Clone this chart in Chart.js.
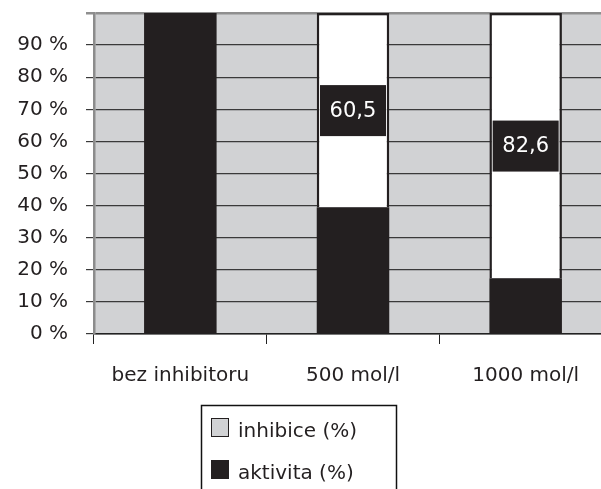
<!DOCTYPE html>
<html>
<head>
<meta charset="utf-8">
<script src="https://cdn.jsdelivr.net/npm/chart.js@4/dist/chart.umd.min.js"></script>
<style>
  html, body { margin: 0; padding: 0; overflow: hidden; background: #fff; }
  canvas { display: block; }
</style>
</head>
<body>
<canvas id="chart" width="612" height="489"></canvas>
<script>
// data
const categories = ["bez inhibitoru", "500 mol/l", "1000 mol/l"];
const inhibice = [0, 60.5, 82.6];
const aktivita = [100, 39.5, 17.4];
const seriesNames = ["inhibice (%)", "aktivita (%)"];
const yMax = 100;
const yStep = 10;

const FONT = "'DejaVu Sans'";
const DARK = "#231f20";

// black boxes with the inhibice value
const valueBoxes = {
    id: "valueBoxes",
    afterDatasetsDraw(chart) {
        const ctx = chart.ctx;
        const meta = chart.getDatasetMeta(1);
        meta.data.forEach((bar, i) => {
            const v = inhibice[i];
            if (!v) return;
            const cy = (bar.y + bar.base) / 2;
            ctx.save();
            ctx.fillStyle = DARK;
            ctx.fillRect(bar.x - 33, cy - 25, 66, 51);
            ctx.fillStyle = "#fff";
            ctx.font = "21px " + FONT;
            ctx.textAlign = "center";
            ctx.textBaseline = "middle";
            ctx.fillText(v.toFixed(1).replace(".", ","), bar.x, cy + 1);
            ctx.restore();
        });
    }
};

// boxed legend under the axis, inhibice first
const boxLegend = {
    id: "boxLegend",
    afterDraw(chart) {
        const ctx = chart.ctx;
        ctx.save();
        ctx.strokeStyle = "#111";
        ctx.lineWidth = 1.5;
        ctx.strokeRect(201.5, 405.5, 195, 120);
        const items = [
            { label: seriesNames[0], fill: "#d1d2d4" },
            { label: seriesNames[1], fill: DARK }
        ];
        ctx.font = "20px " + FONT;
        ctx.textBaseline = "alphabetic";
        items.forEach((it, i) => {
            const y = 418 + i * 42;
            ctx.fillStyle = it.fill;
            ctx.fillRect(211, y, 18, 19);
            ctx.strokeStyle = DARK;
            ctx.lineWidth = 1;
            ctx.strokeRect(211.5, y + 0.5, 17, 18);
            ctx.fillStyle = DARK;
            ctx.fillText(it.label, 238, y + 19);
        });
        ctx.restore();
    }
};

new Chart(document.getElementById("chart"), {
    type: "bar",
    data: {
        labels: categories,
        datasets: [
            {
                label: seriesNames[1],
                data: aktivita,
                backgroundColor: DARK,
                borderWidth: 0
            },
            {
                label: seriesNames[0],
                data: inhibice,
                backgroundColor: "#fff",
                borderColor: DARK,
                borderWidth: 2.5
            }
        ]
    },
    options: {
        responsive: false,
        animation: false,
        events: [],
        layout: { padding: { top: 13, left: 0, right: 0, bottom: 0 } },
        datasets: {
            bar: { categoryPercentage: 1, barPercentage: 0.42 }
        },
        plugins: {
            legend: { display: false },
            tooltip: { enabled: false }
        },
        scales: {
            x: {
                stacked: true,
                grid: {
                    offset: true,
                    drawOnChartArea: false,
                    drawTicks: true,
                    tickLength: 10,
                    color: "#222",
                    lineWidth: 1
                },
                border: { color: "#222", width: 1.5 },
                ticks: {
                    color: DARK,
                    font: { family: FONT, size: 20 },
                    padding: 20,
                    maxRotation: 0,
                    autoSkip: false
                },
                afterFit(scale) { scale.height = 155; }
            },
            y: {
                stacked: true,
                min: 0,
                max: yMax,
                grid: {
                    tickLength: 8,
                    color: ctx => ctx.tick && ctx.tick.value === yMax ? "#8f8f8f" : "#3a3a3a",
                    lineWidth: ctx => ctx.tick && ctx.tick.value === yMax ? 2.5 : 1.2
                },
                border: { color: "#8c8c8c", width: 2.5 },
                ticks: {
                    stepSize: yStep,
                    color: DARK,
                    font: { family: FONT, size: 20 },
                    padding: 18,
                    callback: v => v === yMax ? "" : v + " %"
                },
                afterFit(scale) {
                    scale.width = 94;
                    scale.paddingTop = 0;
                    scale.paddingBottom = 0;
                }
            }
        }
    },
    plugins: [valueBoxes, boxLegend, {
        id: "plotBg",
        beforeDraw(chart) {
            const a = chart.chartArea;
            chart.ctx.save();
            chart.ctx.fillStyle = "#d1d2d4";
            chart.ctx.fillRect(a.left, a.top, a.right - a.left, a.bottom - a.top);
            chart.ctx.restore();
        }
    }]
});
</script>
</body>
</html>
